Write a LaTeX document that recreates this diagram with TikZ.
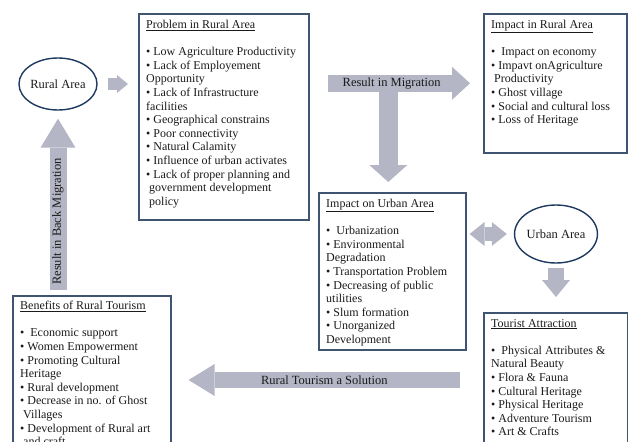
\documentclass[tikz,border=0pt]{standalone}
\usepackage{fontspec}
\setmainfont{Liberation Serif}
\usetikzlibrary{shapes.geometric, arrows.meta, calc}
\definecolor{mArrowGray}{HTML}{B4B5C5}
\definecolor{mBoxBlue}{HTML}{3E5471}
\definecolor{mNavy}{HTML}{1F3A60}
\definecolor{mText}{HTML}{1A1A1A}

\begin{document}
\begin{tikzpicture}[x=1pt, y=-1pt, font=\fontsize{12}{13.6}\selectfont, text=mText,
    box/.style={draw=mBoxBlue, line width=1.6pt, rectangle, inner sep=0pt, anchor=north west},
    items/.style={align=left, inner sep=0pt, anchor=north west},
    area/.style={draw=mNavy, line width=1.4pt, ellipse, inner sep=0pt, font=\fontsize{12.5}{14}\selectfont},
    fat/.style n args={3}{draw=mArrowGray, line width=#1, -{Triangle[length=#2, width=#3, line width=0pt]}},
    lbl/.style={font=\fontsize{12.5}{14}\selectfont}]
  \useasboundingbox (0,0) rectangle (628,441);
  \clip (0,0) rectangle (628,441);

  % areas
  \node[area, minimum width=72pt, minimum height=52pt] (rural) at (58,84) {Rural Area};
  \node[area, minimum width=72pt, minimum height=58pt] (urban) at (556,234) {Urban Area};

  % boxes
  \node[box, minimum width=170pt, minimum height=206pt] (prob) at (138,13) {};
  \node[box, minimum width=143pt, minimum height=139pt] (imprural) at (483,13) {};
  \node[box, minimum width=147pt, minimum height=157pt] (impurban) at (318,192) {};
  \node[box, minimum width=144pt, minimum height=150pt] (tourist) at (483,312) {};
  \node[box, minimum width=158pt, minimum height=160pt] (benefit) at (12,295) {};

  \node[items] (prob-txt) at ([shift={(8,7)}]prob.north west) {\underline{Problem in Rural Area}\\[13.6pt]
    • Low Agriculture Productivity\\
    • Lack of Employement\\
    Opportunity\\
    • Lack of Infrastructure\\
    facilities\\
    • Geographical constrains\\
    • Poor connectivity\\
    • Natural Calamity\\
    • Influence of urban activates\\
    • Lack of proper planning and\\
    \ government development\\
    \ policy};
  \node[items] (imprural-txt) at ([shift={(8,7)}]imprural.north west) {\underline{Impact in Rural Area}\\[13.6pt]
    • \ Impact on economy\\
    • Impavt onAgriculture\\
    \ Productivity\\
    • Ghost village\\
    • Social and cultural loss\\
    • Loss of Heritage};
  \node[items] (impurban-txt) at ([shift={(8,7)}]impurban.north west) {\underline{Impact on Urban Area}\\[13.6pt]
    • \ Urbanization\\
    • Environmental\\
    Degradation\\
    • Transportation Problem\\
    • Decreasing of public\\
    utilities\\
    • Slum formation\\
    • Unorganized\\
    Development};
  \node[items] (tourist-txt) at ([shift={(8,7)}]tourist.north west) {\underline{Tourist Attraction}\\[13.6pt]
    • \ Physical Attributes \&\\
    Natural Beauty\\
    • Flora \& Fauna\\
    • Cultural Heritage\\
    • Physical Heritage\\
    • Adventure Tourism\\
    • Art \& Crafts};
  \node[items] (benefit-txt) at ([shift={(8,6)}]benefit.north west) {\underline{Benefits of Rural Tourism}\\[13.6pt]
    • \ Economic support\\
    • Women Empowerment\\
    • Promoting Cultural\\
    Heritage\\
    • Rural development\\
    • Decrease in no. of Ghost\\
    \ Villages\\
    • Development of Rural art\\
    \ and craft};

  % block arrows
  \draw[fat={12pt}{11pt}{18pt}] ([xshift=10pt]rural.east) -- ([xshift=-10pt]prob.west |- rural.east);
  \draw[fat={17pt}{29pt}{35pt}] ([yshift=5pt]benefit.north -| rural.south) -- ([yshift=-8pt]rural.south)
        node[lbl, pos=0.4, rotate=90] {Result in Back Migration};
  \draw[fat={19pt}{17pt}{38pt}] ([xshift=-4pt]impurban.north |- imprural.west) -- ([xshift=-4pt, yshift=10pt]impurban.north);
  \draw[fat={17pt}{18pt}{33pt}] ([xshift=18pt]prob.east |- imprural.west) -- ([xshift=-13pt]imprural.west)
        node[lbl, pos=0.45] {Result in Migration};
  \draw[draw=mArrowGray, line width=14pt,
        {Triangle[length=15pt, width=24pt, line width=0pt]}-{Triangle[length=15pt, width=24pt, line width=0pt]}]
        ([xshift=3pt]impurban.east |- urban.west) -- ([xshift=-7pt]urban.west);
  \draw[fat={16pt}{17pt}{28pt}] ([yshift=-4pt]urban.south) -- ([yshift=15pt]tourist.north -| urban.south);
  \coordinate (sol) at (0,380);
  \draw[fat={16pt}{26pt}{32pt}] ([xshift=-23pt]tourist.north west |- sol) -- ([xshift=17pt]benefit.north east |- sol)
        node[lbl, midway] {Rural Tourism a Solution};
\end{tikzpicture}
\end{document}
